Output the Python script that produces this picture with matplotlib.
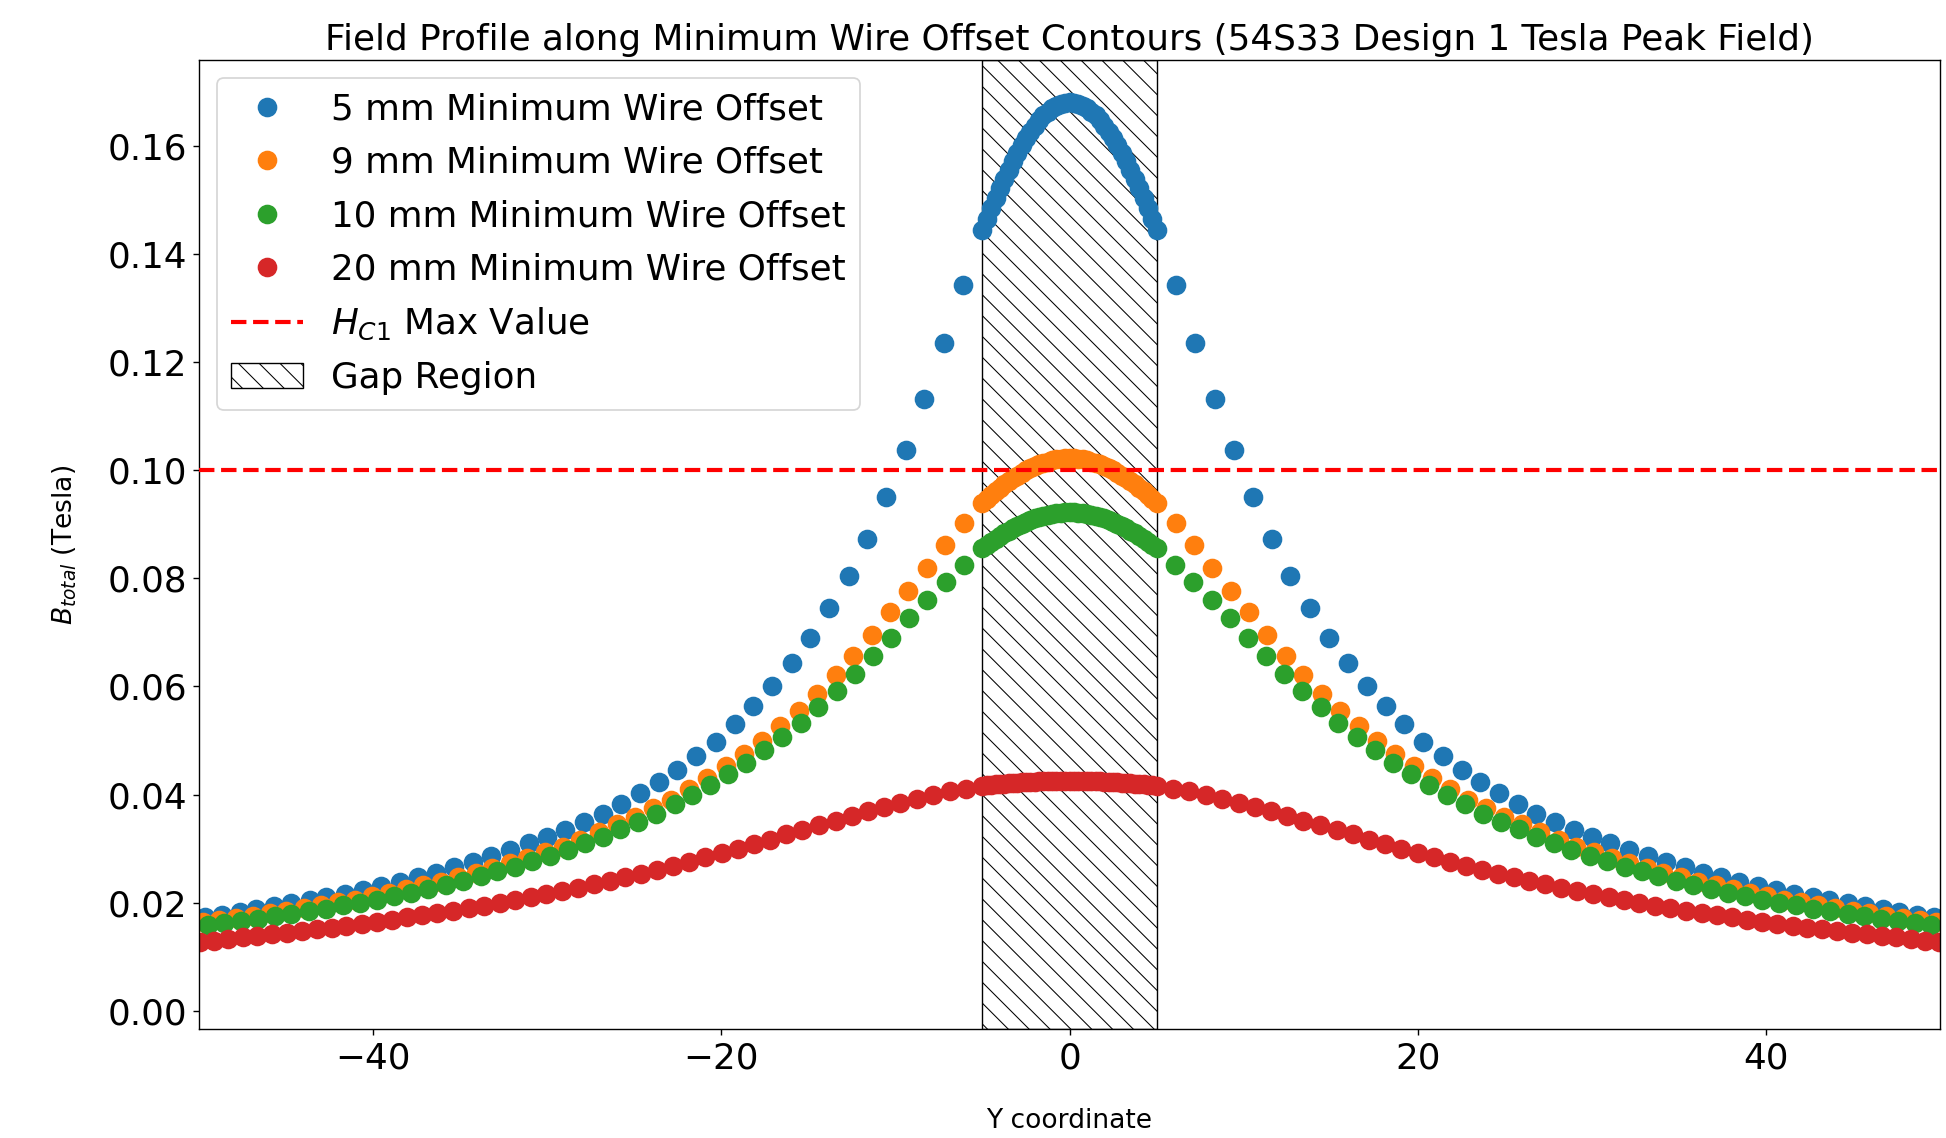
import numpy as np
import matplotlib
matplotlib.use("Agg")
import matplotlib.pyplot as plt

plt.rcParams["hatch.linewidth"] = 0.6

# y positions inside the gap (dense part of each contour), positive half
gap_y = [0.0, 0.25, 0.5, 0.75, 1.0, 1.25, 1.5, 1.75, 2.0, 2.25, 2.5,
         2.75, 3.0, 3.25, 3.5, 3.75, 4.0, 4.25, 4.5, 4.75, 5.0]

# 5 mm offset
b5_gap = [0.1680, 0.1679, 0.1677, 0.1674, 0.1669, 0.1663, 0.1656, 0.1647, 0.1637, 0.1626, 0.1614,
          0.1601, 0.1587, 0.1572, 0.1556, 0.1539, 0.1522, 0.1503, 0.1485, 0.1465, 0.1445]
y5_out = [6.13, 7.20, 8.35, 9.42, 10.53, 11.62, 12.69, 13.82, 14.89, 15.97, 17.10,
          18.17, 19.24, 20.32, 21.44, 22.52, 23.59, 24.68, 25.75, 26.82, 27.90,
          28.97, 30.04, 31.07, 32.13, 33.22, 34.28, 35.33, 36.38, 37.43, 38.48,
          39.54, 40.59, 41.64, 42.69, 43.65, 44.70, 45.72, 46.71, 47.67, 48.69, 49.68]
b5_out = [0.1343, 0.1236, 0.1132, 0.1037, 0.0951, 0.0873, 0.0804, 0.0745, 0.0690, 0.0643, 0.0600,
          0.0563, 0.0530, 0.0498, 0.0472, 0.0446, 0.0423, 0.0403, 0.0383, 0.0365, 0.0350,
          0.0335, 0.0322, 0.0310, 0.0298, 0.0286, 0.0276, 0.0266, 0.0256, 0.0247, 0.0239,
          0.0231, 0.0223, 0.0217, 0.0211, 0.0205, 0.0199, 0.0194, 0.0188, 0.0183, 0.0178, 0.0174]

# 9 mm offset
b9_gap = [0.1022, 0.1022, 0.1021, 0.1020, 0.1018, 0.1016, 0.1014, 0.1011, 0.1008, 0.1004, 0.1000,
          0.0995, 0.0990, 0.0985, 0.0980, 0.0974, 0.0967, 0.0961, 0.0954, 0.0946, 0.0939]
y9_out = [6.09, 7.16, 8.20, 9.26, 10.29, 11.33, 12.41, 13.44, 14.51, 15.55, 16.62,
          17.65, 18.72, 19.76, 20.81, 21.84, 22.90, 23.93, 24.95, 26.00, 27.03, 28.10,
          29.10, 30.15, 31.16, 32.16, 33.15, 34.11, 35.13, 36.12, 37.14, 38.13,
          39.09, 40.07, 41.06, 42.02, 43.01, 43.99, 44.98, 45.94, 46.90, 47.86, 48.85, 49.77]
b9_out = [0.0902, 0.0862, 0.0820, 0.0777, 0.0737, 0.0695, 0.0657, 0.0621, 0.0586, 0.0555, 0.0527,
          0.0500, 0.0476, 0.0453, 0.0431, 0.0411, 0.0391, 0.0376, 0.0359, 0.0345, 0.0330, 0.0317,
          0.0304, 0.0293, 0.0283, 0.0273, 0.0264, 0.0255, 0.0247, 0.0239, 0.0232, 0.0225,
          0.0218, 0.0212, 0.0206, 0.0201, 0.0195, 0.0190, 0.0185, 0.0181, 0.0176, 0.0172, 0.0168, 0.0165]

# 10 mm offset
b10_gap = [0.0922, 0.0922, 0.0921, 0.0920, 0.0919, 0.0918, 0.0916, 0.0913, 0.0911, 0.0908, 0.0905,
           0.0901, 0.0897, 0.0893, 0.0888, 0.0884, 0.0879, 0.0873, 0.0868, 0.0862, 0.0856]
y10_out = [6.08, 7.12, 8.19, 9.21, 10.24, 11.30, 12.33, 13.36, 14.42, 15.45, 16.49,
           17.56, 18.59, 19.63, 20.66, 21.67, 22.69, 23.76, 24.80, 25.81, 26.81, 27.81,
           28.82, 29.87, 30.88, 31.88, 32.87, 33.83, 34.85, 35.84, 36.86, 37.85,
           38.81, 39.79, 40.78, 41.74, 42.73, 43.71, 44.70, 45.66, 46.62, 47.58, 48.57, 49.49]
b10_out = [0.0825, 0.0794, 0.0760, 0.0726, 0.0690, 0.0656, 0.0623, 0.0592, 0.0562, 0.0533, 0.0507,
           0.0483, 0.0459, 0.0438, 0.0417, 0.0399, 0.0382, 0.0365, 0.0350, 0.0336, 0.0322, 0.0310,
           0.0298, 0.0287, 0.0277, 0.0267, 0.0258, 0.0249, 0.0241, 0.0233, 0.0226, 0.0219,
           0.0212, 0.0206, 0.0200, 0.0195, 0.0189, 0.0184, 0.0179, 0.0175, 0.0170, 0.0166, 0.0162, 0.0159]

# 20 mm offset
b20_gap = [0.0426, 0.0426, 0.0426, 0.0426, 0.0426, 0.0425, 0.0425, 0.0425, 0.0424, 0.0424, 0.0424,
           0.0423, 0.0422, 0.0422, 0.0421, 0.0420, 0.0420, 0.0419, 0.0418, 0.0417, 0.0416]
y20_out = [5.97, 6.89, 7.85, 8.77, 9.71, 10.64, 11.58, 12.52, 13.44, 14.40, 15.36,
           16.27, 17.19, 18.13, 19.05, 19.99, 20.93, 21.87, 22.79, 23.70, 24.60,
           25.52, 26.42, 27.34, 28.24, 29.14, 30.06, 30.96, 31.84, 32.74, 33.64,
           34.52, 35.42, 36.32, 37.18, 38.06, 38.90, 39.79, 40.65, 41.55, 42.37,
           43.23, 44.10, 44.93, 45.82, 46.66, 47.48, 48.31, 49.15, 49.93]
b20_out = [0.0411, 0.0407, 0.0399, 0.0392, 0.0384, 0.0378, 0.0370, 0.0361, 0.0352, 0.0344, 0.0335,
           0.0327, 0.0317, 0.0309, 0.0300, 0.0292, 0.0284, 0.0276, 0.0268, 0.0261, 0.0254,
           0.0247, 0.0240, 0.0234, 0.0227, 0.0222, 0.0216, 0.0211, 0.0205, 0.0199, 0.0194,
           0.0190, 0.0185, 0.0181, 0.0177, 0.0173, 0.0169, 0.0165, 0.0161, 0.0157, 0.0154,
           0.0151, 0.0148, 0.0144, 0.0142, 0.0139, 0.0136, 0.0133, 0.0130, 0.0127]

labels = ["5 mm Minimum Wire Offset", "9 mm Minimum Wire Offset",
          "10 mm Minimum Wire Offset", "20 mm Minimum Wire Offset"]
colors = ["#1f77b4", "#ff7f0e", "#2ca02c", "#d62728"]
hc1_max = 0.10
gap_half = 5


def mirror(y_half, b_half):
    # profiles are symmetric about y = 0
    y_half = np.asarray(y_half)
    b_half = np.asarray(b_half)
    y = np.concatenate([-y_half[:0:-1], y_half])
    b = np.concatenate([b_half[:0:-1], b_half])
    return y, b


series = [
    (gap_y + y5_out, b5_gap + b5_out),
    (gap_y + y9_out, b9_gap + b9_out),
    (gap_y + y10_out, b10_gap + b10_out),
    (gap_y + y20_out, b20_gap + b20_out),
]

fs = 20.6

fig = plt.figure(figsize=(15.568, 9.104), dpi=125)
ax = fig.add_axes([0.1023, 0.0955, 0.8946, 0.8515])

gap = ax.axvspan(-gap_half, gap_half, facecolor="none", edgecolor="black",
                 hatch="\\\\", linewidth=0.8, label="Gap Region", zorder=1)

handles = []
for (yh, bh), lab, col in zip(series, labels, colors):
    y, b = mirror(yh, bh)
    h, = ax.plot(y, b, "o", color=col, markersize=10.3, label=lab, zorder=2)
    handles.append(h)

hl = ax.axhline(hc1_max, color="red", linestyle="--", linewidth=2.4,
                label="$H_{C1}$ Max Value", zorder=3)
handles += [hl, gap]

ax.set_xlim(-50, 50)
ax.set_ylim(-0.0034, 0.1758)
ax.tick_params(labelsize=fs)
ax.set_title("Field Profile along Minimum Wire Offset Contours (54S33 Design 1 Tesla Peak Field)",
             fontsize=fs)
ax.set_xlabel("Y coordinate", fontsize=15.3, labelpad=19)
ax.set_ylabel("$B_{total}$ (Tesla)", fontsize=15.3, labelpad=16.4)
ax.legend(handles=handles, loc="upper left", fontsize=fs, labelspacing=0.54)

fig.savefig("out.png", dpi=125)
